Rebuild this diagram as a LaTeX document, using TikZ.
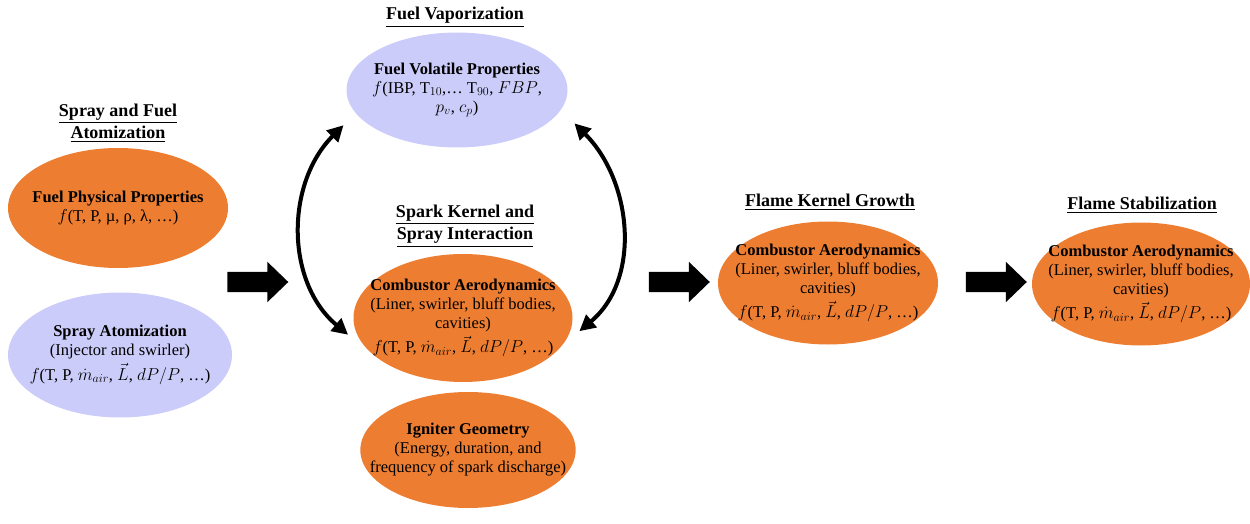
\documentclass[tikz,border=0pt]{standalone}
\usepackage{amsmath}
\usepackage{fontspec}
\setmainfont{Liberation Serif}
\usetikzlibrary{arrows.meta, shapes, positioning}
\definecolor{niceorange}{RGB}{237, 125, 49}
\definecolor{lavender}{RGB}{204, 204, 250}

\begin{document}
\begin{tikzpicture}[x=1pt, y=1pt, line cap=round, line join=round, >={Triangle[length=16pt,width=16pt]},
    blob/.style={ellipse, inner sep=-22pt, align=center, font=\fontsize{16.5}{19}\selectfont},
    orangeblob/.style={blob, fill=niceorange},
    blueblob/.style={blob, fill=lavender},
    stage/.style={align=center, font=\fontsize{18}{22}\selectfont\bfseries},
    fatarrow/.style={single arrow, fill=black, inner sep=10pt, minimum height=61pt,
        single arrow head extend=10pt, single arrow tip angle=88}]
    \useasboundingbox (0,0) rectangle (1250,523);

    % left column
    \node[stage] (sprayTitle) at (118,400) {\underline{Spray and Fuel}\\\underline{Atomization}};
    \node[orangeblob, minimum width=220pt, minimum height=120pt] (phys) at (118,315)
        {\textbf{Fuel Physical Properties}\\$f$(T, P, µ, ρ, λ, …)};
    \node[blueblob, minimum width=224pt, minimum height=125pt] (spray) at (120,168)
        {\textbf{Spray Atomization}\\(Injector and swirler)\\[3pt]$f$(T, P, $\dot m_{air}$, $\vec L$, $dP/P$, …)};

    \node[fatarrow] (arrA) at (252.5,241) {};

    % middle column
    \node[stage] (vapTitle) at (455,506) {\underline{Fuel Vaporization}};
    \node[blueblob, minimum width=221pt, minimum height=115pt] (vap) at (457,433)
        {\textbf{Fuel Volatile Properties}\\$f$(IBP, T$_{10}$,… T$_{90}$, $FBP$,\\$p_v$, $c_p$)};
    \node[stage] (sparkTitle) at (465,297) {\underline{Spark Kernel and}\\\underline{Spray Interaction}};
    \node[orangeblob, minimum width=219pt, minimum height=128pt] (comb) at (463,205)
        {\textbf{Combustor Aerodynamics}\\(Liner, swirler, bluff bodies,\\cavities)\\[3pt]$f$(T, P, $\dot m_{air}$, $\vec L$, $dP/P$, …)};
    \node[orangeblob, minimum width=213pt, minimum height=116pt] (ign) at (468,73)
        {\textbf{Igniter Geometry}\\(Energy, duration, and\\frequency of spark discharge)};

    \draw [<->, line width=4pt] ([xshift=-18pt, yshift=-6pt]vap.197) to[out=225, in=140] ([xshift=-9pt]comb.189);
    \draw [<->, line width=4pt] ([xshift=19pt, yshift=-7pt]vap.-15) to[out=-45, in=40] ([xshift=9pt]comb.-7);

    \node[fatarrow] (arrB) at (674,241) {};

    % flame kernel growth
    \node[stage] (kernTitle) at (830,321) {\underline{Flame Kernel Growth}};
    \node[orangeblob, minimum width=220pt, minimum height=123pt] (kern) at (828,240)
        {\textbf{Combustor Aerodynamics}\\(Liner, swirler, bluff bodies,\\cavities)\\[3pt]$f$(T, P, $\dot m_{air}$, $\vec L$, $dP/P$, …)};

    \node[fatarrow] (arrC) at (991,241) {};

    % flame stabilization
    \node[stage] (stabTitle) at (1142,318) {\underline{Flame Stabilization}};
    \node[orangeblob, minimum width=218pt, minimum height=123pt] (stab) at (1141,239)
        {\textbf{Combustor Aerodynamics}\\(Liner, swirler, bluff bodies,\\cavities)\\[3pt]$f$(T, P, $\dot m_{air}$, $\vec L$, $dP/P$, …)};
\end{tikzpicture}
\end{document}
